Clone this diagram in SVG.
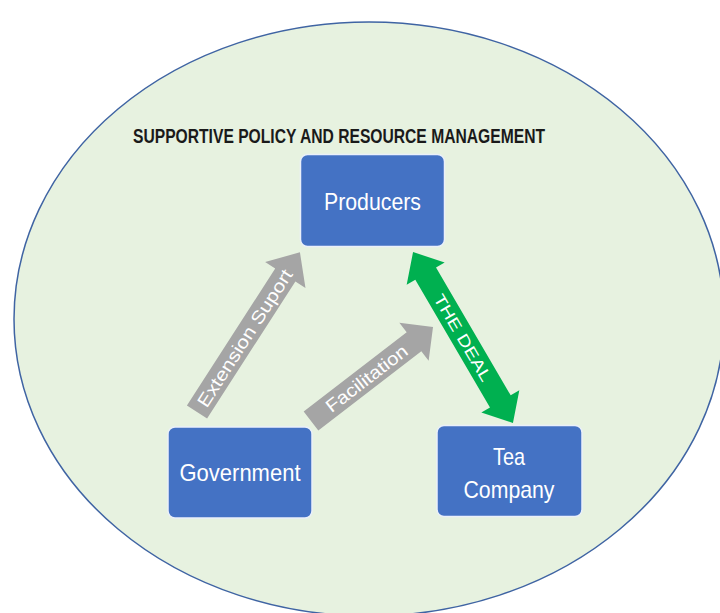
<svg xmlns="http://www.w3.org/2000/svg" width="720" height="613" viewBox="0 0 720 613">
<style>
.node rect{fill:#4472C4;stroke:#EAF0FA;stroke-width:1.5}
.node text{fill:#FFFFFF;font-family:"Liberation Sans",Arial,sans-serif;font-size:24px;text-anchor:middle}
.lbl{fill:#FFFFFF;font-family:"Liberation Sans",Arial,sans-serif;text-anchor:middle}
.gray{fill:#A5A5A5}
.green{fill:#00B050}
</style>
<rect x="0" y="0" width="720" height="613" fill="#FFFFFF"/>
<ellipse cx="369" cy="319" rx="355" ry="297" fill="#E7F2E0" stroke="#3F64A3" stroke-width="1.5"/>
<text x="133" y="143" font-family="'Liberation Sans',Arial,sans-serif" font-size="20" font-weight="bold" fill="#1A1A1A" textLength="412" lengthAdjust="spacingAndGlyphs">SUPPORTIVE POLICY AND RESOURCE MANAGEMENT</text>
<g id="connectors">
<g id="extension-support" transform="translate(197,412) rotate(-57.2)">
<polygon class="gray" points="0,-12 163,-12 163,-24 190,0 163,24 163,12 0,12"/>
<text class="lbl" x="88" y="6.5" font-size="18" textLength="160" lengthAdjust="spacingAndGlyphs">Extension Suport</text>
</g>
<g id="facilitation" transform="translate(311,421) rotate(-37.6)">
<polygon class="gray" points="0,-12 130,-12 130,-24 154,0 130,24 130,12 0,12"/>
<text class="lbl" x="70" y="6.5" font-size="18" textLength="98" lengthAdjust="spacingAndGlyphs">Facilitation</text>
</g>
<g id="the-deal" transform="translate(463,337.5) rotate(59.7)">
<polygon class="green" points="-99,0 -74,-22 -74,-12 74,-12 74,-22 99,0 74,22 74,12 -74,12 -74,22"/>
<text class="lbl" x="0" y="6" font-size="16" textLength="98" lengthAdjust="spacingAndGlyphs">THE DEAL</text>
</g>
</g>
<g id="producers" class="node">
<rect x="300.5" y="154.5" width="144" height="92" rx="7"/>
<text x="372.5" y="210" textLength="97" lengthAdjust="spacingAndGlyphs">Producers</text>
</g>
<g id="government" class="node">
<rect x="168" y="427" width="144" height="91" rx="7"/>
<text x="240" y="481" textLength="121" lengthAdjust="spacingAndGlyphs">Government</text>
</g>
<g id="tea-company" class="node">
<rect x="437" y="425.5" width="145" height="91" rx="7"/>
<text x="509" y="465" textLength="32" lengthAdjust="spacingAndGlyphs">Tea</text>
<text x="509" y="498" textLength="91" lengthAdjust="spacingAndGlyphs">Company</text>
</g>
</svg>
